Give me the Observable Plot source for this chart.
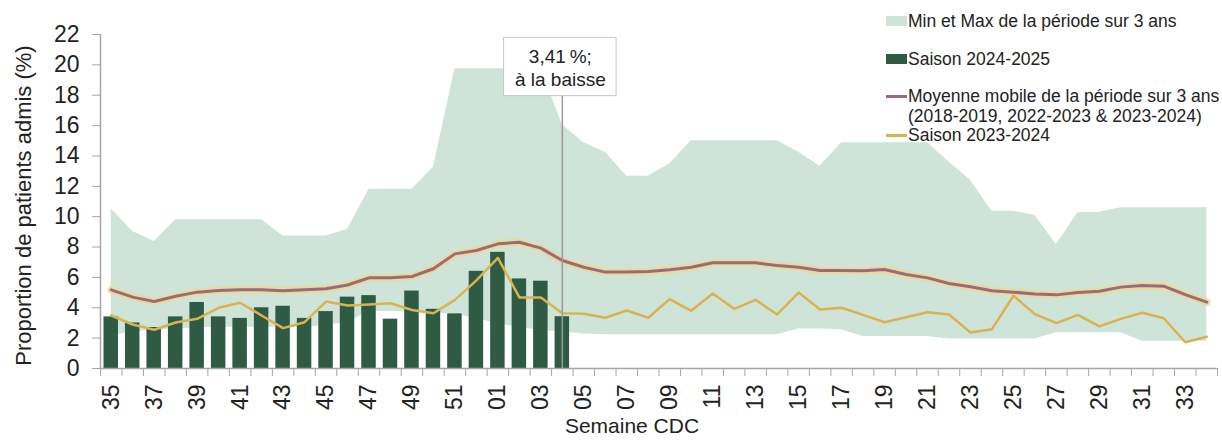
<!DOCTYPE html>
<html>
<head>
<meta charset="utf-8">
<script src="https://cdn.jsdelivr.net/npm/d3@7"></script>
<script src="https://cdn.jsdelivr.net/npm/@observablehq/plot@0.6"></script>
<style>
  body { margin: 0; background: #fff; font-family: "Liberation Sans", Arial, sans-serif; }
  #wrap { position: relative; width: 1222px; height: 440px; overflow: hidden; }
  #legend { position: absolute; left: 886px; top: 0; font-size: 17.5px; color: #222; line-height: 20px; }
  .item { position: absolute; left: 0; white-space: nowrap; }
  .sw { position: absolute; left: 0; width: 21px; }
  .txt { position: absolute; left: 22px; top: 0; }
</style>
</head>
<body>
<div id="wrap">
  <div id="chart"></div>
  <div id="legend"></div>
</div>
<script>
// ---------- data ----------
const weeks = ["35","36","37","38","39","40","41","42","43","44","45","46","47","48","49","50","51","52",
  "01","02","03","04","05","06","07","08","09","10","11","12","13","14","15","16","17","18","19","20",
  "21","22","23","24","25","26","27","28","29","30","31","32","33","34"];

// Saison 2024-2025 (bars, weeks 35 -> 04)
const saison2425 = [3.4,3.0,2.7,3.4,4.35,3.4,3.3,4.0,4.1,3.3,3.75,4.7,4.8,3.25,5.1,3.9,3.6,6.4,7.65,5.9,5.75,3.41];

// Saison 2023-2024 (line)
const saison2324 = [3.49,2.9,2.55,3.03,3.27,4.0,4.33,3.49,2.66,3.05,4.41,4.15,4.22,4.3,3.85,3.64,4.52,5.8,
  7.29,4.68,4.68,3.64,3.6,3.34,3.82,3.34,4.57,3.8,
  4.94,3.93,4.52,3.56,5.0,3.89,4.0,3.53,3.05,3.38,
  3.71,3.56,2.37,2.59,4.79,3.58,2.99,3.53,2.77,3.27,
  3.67,3.31,1.73,2.09];

// Moyenne mobile de la période sur 3 ans
const moyenne = [5.18,4.7,4.41,4.76,5.03,5.14,5.18,5.18,5.12,5.18,5.25,5.5,5.97,5.97,6.06,6.57,7.55,7.77,
  8.21,8.32,7.93,7.11,6.67,6.35,6.35,6.39,6.5,6.67,
  6.96,6.96,6.96,6.78,6.67,6.46,6.46,6.44,6.52,6.19,
  5.97,5.6,5.38,5.12,5.03,4.9,4.85,5.0,5.09,5.36,
  5.47,5.42,4.87,4.37];

// Min / Max de la période sur 3 ans
const minVals = [2.17,2.39,2.55,2.61,2.66,2.72,2.72,2.72,2.72,2.72,2.83,3.05,3.75,3.75,3.7,3.67,3.57,3.3,
  2.95,2.7,2.52,2.4,2.28,2.22,2.22,2.22,2.22,2.22,
  2.22,2.22,2.22,2.22,2.6,2.6,2.55,2.1,2.1,2.1,
  2.1,1.95,1.95,1.95,1.95,1.95,2.35,2.35,2.35,2.35,
  1.8,1.8,1.8,1.8];
const maxVals = [10.52,9.02,8.37,9.8,9.8,9.8,9.8,9.8,8.72,8.72,8.72,9.18,11.8,11.8,11.8,13.26,19.74,19.74,
  19.74,19.74,19.74,16.05,14.87,14.25,12.67,12.67,13.48,15.0,
  15.0,15.0,15.0,15.0,14.25,13.33,14.87,14.87,14.87,14.87,
  14.87,13.6,12.4,10.36,10.36,10.08,8.15,10.26,10.3,10.59,
  10.59,10.59,10.59,10.59];

const yTicks = [0,2,4,6,8,10,12,14,16,18,20,22];
const xTickLabels = weeks.filter((d, i) => i % 2 === 0);
const annotationWeek = ["04"];
const annotationText = ["3,41\u202F%;", "à la baisse"];
const legendLabels = ["Min et Max de la période sur 3 ans", "Saison 2024-2025",
  "Moyenne mobile de la période sur 3 ans\n(2018-2019, 2022-2023 & 2023-2024)", "Saison 2023-2024"];

// ---------- tables ----------
const rows = weeks.map((w, i) => ({week: w, min: minVals[i], max: maxVals[i], moy: moyenne[i], s2324: saison2324[i]}));
const bars = saison2425.map((v, i) => ({week: weeks[i], v}));

const W = 1222, H = 440, mL = 100, mR = 5, mT = 34, mB = 72;
const half = (W - mL - mR) / weeks.length / 2;
const axisGray = "#a6a6a6";
const font = "Liberation Sans, Arial, sans-serif";

const chart = Plot.plot({
  width: W, height: H,
  marginLeft: mL, marginRight: mR, marginTop: mT, marginBottom: mB,
  style: {fontFamily: font, color: "#222", background: "#fff"},
  x: {type: "band", domain: weeks, padding: 0, round: false, label: null},
  y: {domain: [0, 22], label: null},
  marks: [
    Plot.areaY(rows, {x: "week", y1: "min", y2: "max", fill: "#cfe4d9"}),
    Plot.barY(bars, {x: "week", y: "v", fill: "#2f5a44", insetLeft: 3.5, insetRight: 3.5}),
    Plot.lineY(rows, {x: "week", y: "moy", stroke: "#ecd98f", strokeWidth: 7.5, strokeOpacity: 0.8}),
    Plot.lineY(rows, {x: "week", y: "moy", stroke: "#9b6a7c", strokeWidth: 3}),
    Plot.lineY(rows, {x: "week", y: "s2324", stroke: "#dbb34e", strokeWidth: 2.5}),
    // annotation
    Plot.ruleX(annotationWeek, {x: d => d, y1: 0, y2: 17.94, stroke: "#9a9a9a", strokeWidth: 1.5}),
    Plot.barY(annotationWeek, {x: d => d, y1: 17.94, y2: 21.78, fill: "#fff", stroke: "#c6c6c6",
      insetLeft: -47.5, insetRight: -43.5}),
    Plot.text(annotationWeek, {x: d => d, y: 19.86, text: () => annotationText.join("\n"),
      fontSize: 19, lineHeight: 1.25, dx: -2, fill: "#222"}),
    // axes
    Plot.ruleY([0], {stroke: axisGray, strokeWidth: 1.5}),
    Plot.ruleX([weeks[0]], {x: d => d, y1: 0, y2: 22, dx: -half, stroke: axisGray, strokeWidth: 1.5}),
    Plot.axisY({ticks: yTicks, tickSize: 8, tickPadding: 13, fontSize: 23, stroke: axisGray, label: null}),
    Plot.axisX({ticks: weeks, tickSize: 8, tickFormat: () => "", dx: -half, stroke: axisGray, label: null}),
    Plot.axisX({ticks: [weeks[weeks.length - 1]], tickSize: 8, tickFormat: () => "", dx: half, stroke: axisGray, label: null}),
    Plot.axisX({ticks: xTickLabels, tickSize: 0, tickRotate: -90, tickPadding: 16, fontSize: 23, label: null}),
    Plot.text(["Proportion de patients admis (%)"], {text: d => d, frameAnchor: "left", textAnchor: "middle",
      rotate: -90, dx: -77, dy: 4, fontSize: 22, fill: "#222"}),
    Plot.text(["Semaine CDC"], {text: d => d, frameAnchor: "bottom", dx: -27, dy: 64, fontSize: 21, fill: "#222"})
  ]
});
document.getElementById("chart").appendChild(chart);

// ---------- legend ----------
const legendStyles = [
  {top: 11, sw: "background:#cfe4d9;height:10px;top:5px;"},
  {top: 49, sw: "background:#2f5a44;height:10px;top:5px;"},
  {top: 86, sw: "background:#9b6a7c;height:2.5px;top:9px;"},
  {top: 125, sw: "background:#dbb34e;height:2.5px;top:9px;"}
];
const legend = document.getElementById("legend");
legendLabels.forEach((label, i) => {
  const item = document.createElement("div");
  item.className = "item";
  item.style.top = legendStyles[i].top + "px";
  const sw = document.createElement("span");
  sw.className = "sw";
  sw.setAttribute("style", legendStyles[i].sw);
  const txt = document.createElement("span");
  txt.className = "txt";
  txt.innerHTML = label.split("\n").join("<br>");
  item.appendChild(sw);
  item.appendChild(txt);
  legend.appendChild(item);
});
</script>
</body>
</html>
